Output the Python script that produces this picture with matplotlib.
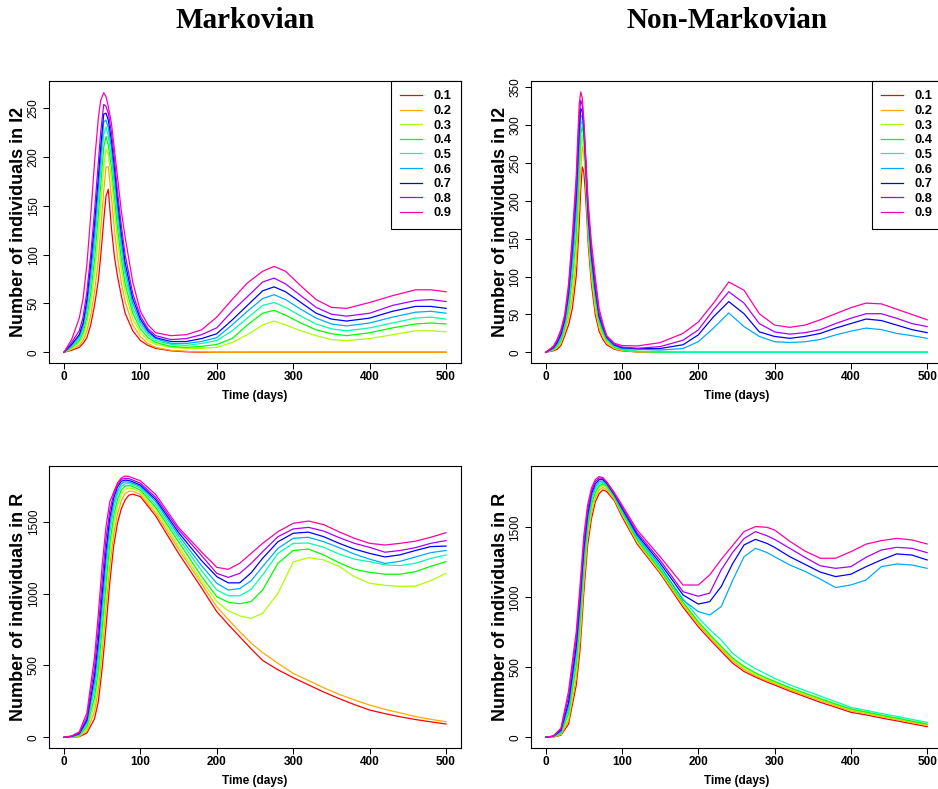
import matplotlib.pyplot as plt

plt.rcParams['font.family'] = ['Liberation Sans', 'DejaVu Sans']

levels = ['0.1', '0.2', '0.3', '0.4', '0.5', '0.6', '0.7', '0.8', '0.9']
colours = ['#FF0000', '#FFAA00', '#AAFF00', '#00FF00', '#00FFAA',
           '#00AAFF', '#0000FF', '#AA00FF', '#FF00AA']

# Markovian, individuals in I2
mk_i2_t = [0, 10, 20, 25, 30, 35, 40, 45, 48, 52, 55, 58, 62, 66, 70, 75, 80, 90, 100,
           110, 120, 140, 160, 180, 200, 220, 240, 260, 275, 290, 310, 330, 350, 370,
           400, 430, 460, 480, 500]
mk_i2 = [
    [0, 2, 5, 9, 15, 28, 48, 74, 98, 135, 160, 167, 128, 98, 78, 58, 40, 22, 12,
     7, 4, 1.5, 0.5, 0, 0, 0, 0, 0, 0, 0, 0, 0, 0, 0, 0, 0, 0, 0, 0],
    [0, 3, 7, 12, 22, 38, 62, 95, 125, 165, 190, 190, 160, 126, 98, 72, 52, 28, 16,
     9, 5, 2, 1, 0.3, 0, 0, 0, 0, 0, 0, 0, 0, 0, 0, 0, 0, 0, 0, 0],
    [0, 4, 10, 16, 30, 50, 80, 120, 150, 190, 209, 202, 178, 145, 115, 85, 62, 34, 20,
     12, 8, 5, 4, 4, 5, 10, 18, 28, 32, 28, 22, 17, 13, 12, 14, 18, 22, 22, 21],
    [0, 5, 12, 20, 36, 60, 95, 140, 170, 210, 221, 212, 190, 160, 128, 96, 70, 40, 24,
     15, 10, 6, 5, 6, 8, 14, 28, 40, 43, 38, 30, 23, 19, 17, 20, 25, 29, 30, 29],
    [0, 6, 14, 24, 42, 70, 108, 155, 185, 223, 231, 222, 200, 170, 138, 105, 78, 45, 28,
     18, 12, 8, 7, 9, 12, 22, 35, 48, 51, 46, 37, 29, 24, 22, 25, 30, 35, 36, 34],
    [0, 7, 16, 27, 48, 80, 120, 168, 198, 236, 238, 230, 210, 180, 148, 113, 85, 50, 31,
     20, 14, 9, 9, 11, 15, 28, 42, 55, 59, 54, 44, 35, 29, 27, 30, 36, 41, 42, 40],
    [0, 8, 18, 30, 54, 90, 132, 180, 210, 244, 245, 238, 218, 190, 157, 122, 92, 55, 34,
     22, 15, 11, 11, 14, 19, 33, 48, 63, 67, 62, 51, 40, 34, 32, 35, 42, 47, 47, 45],
    [0, 10, 22, 36, 62, 100, 145, 195, 225, 254, 252, 245, 226, 198, 165, 130, 100, 60, 37,
     24, 17, 13, 14, 18, 25, 42, 57, 72, 76, 70, 58, 46, 39, 37, 40, 48, 53, 54, 52],
    [0, 13, 35, 55, 90, 140, 195, 240, 258, 266, 262, 252, 235, 208, 180, 145, 118, 72, 42,
     28, 20, 17, 18, 23, 36, 54, 71, 83, 88, 83, 68, 54, 46, 45, 51, 58, 64, 64, 62],
]

# Non-Markovian, individuals in I2
nm_i2_t = [0, 10, 15, 20, 25, 30, 35, 40, 42, 44, 46, 48, 50, 52, 54, 56, 60, 65, 70, 75,
           80, 90, 100, 120, 150, 180, 200, 220, 240, 260, 280, 300, 320, 340, 360, 380,
           400, 420, 440, 460, 480, 500]
nm_i2 = [
    [0, 2, 4, 9, 22, 36, 58, 100, 133, 170, 215, 245, 238, 212, 178, 140, 90, 50, 28, 17,
     10, 4, 2, 0.5, 0, 0, 0, 0, 0, 0, 0, 0, 0, 0, 0, 0, 0, 0, 0, 0, 0, 0],
    [0, 3, 6, 12, 27, 45, 72, 120, 155, 198, 242, 272, 262, 235, 192, 150, 98, 57, 32, 20,
     12, 5, 2.5, 0.7, 0.2, 0, 0, 0, 0, 0, 0, 0, 0, 0, 0, 0, 0, 0, 0, 0, 0, 0],
    [0, 3.5, 7, 14, 30, 52, 85, 138, 178, 225, 268, 287, 275, 245, 200, 157, 106, 64, 36, 23,
     14, 6, 3, 1, 0.3, 0, 0, 0, 0, 0, 0, 0, 0, 0, 0, 0, 0, 0, 0, 0, 0, 0],
    [0, 4, 8, 16, 33, 58, 98, 155, 198, 245, 288, 299, 285, 250, 206, 163, 112, 70, 40, 26,
     16, 7, 3.5, 1.2, 0.4, 0, 0, 0, 0, 0, 0, 0, 0, 0, 0, 0, 0, 0, 0, 0, 0, 0],
    [0, 5, 10, 19, 37, 65, 110, 172, 215, 262, 300, 306, 290, 254, 210, 168, 117, 74, 42, 28,
     17, 8, 4, 1.5, 0.5, 0, 0, 0, 0, 0, 0, 0, 0, 0, 0, 0, 0, 0, 0, 0, 0, 0],
    [0, 5.5, 11, 21, 40, 72, 122, 188, 232, 278, 313, 312, 293, 257, 214, 172, 122, 78, 45, 30,
     18, 9, 5, 4, 3, 5, 14, 32, 52, 34, 21, 14, 13, 14, 17, 23, 28, 32, 30, 25, 22, 18.5],
    [0, 6, 13, 24, 43, 78, 135, 205, 250, 295, 322, 318, 297, 260, 218, 178, 128, 84, 48, 33,
     20, 10, 6, 5, 5, 10, 23, 47, 67, 51, 27, 21, 18.5, 21, 25, 32, 38, 44, 42, 36, 30, 26],
    [0, 7, 15, 27, 46, 84, 145, 218, 266, 312, 333, 326, 302, 264, 222, 185, 135, 90, 52, 35,
     21, 11, 7, 5.3, 7.5, 16, 29.5, 56, 80, 65, 38, 27, 24, 26, 30, 38, 45, 51, 51, 45, 38, 34],
    [0, 8, 17, 30, 50, 90, 155, 232, 282, 328, 344, 336, 308, 270, 230, 195, 145, 100, 58, 38,
     22, 12, 9, 8.4, 12.8, 25, 40, 65, 93, 82, 51, 36, 33, 36, 43, 51, 59, 65, 64, 57, 50, 43],
]

# Markovian, individuals in R
mk_r_t = [0, 10, 20, 30, 40, 45, 50, 55, 60, 65, 70, 75, 80, 85, 90, 100, 120, 150, 180,
          200, 215, 230, 245, 260, 280, 300, 320, 340, 360, 380, 400, 420, 440, 460, 480, 500]
mk_r = [
    [0, 1, 5, 30, 130, 250, 480, 770, 1080, 1330, 1490, 1590, 1652, 1685, 1692, 1675, 1540,
     1280, 1040, 874, 785, 700, 615, 535, 470, 415, 365, 315, 270, 228, 190, 165, 143, 124, 108, 93],
    [0, 2, 8, 45, 180, 330, 600, 900, 1190, 1410, 1555, 1645, 1695, 1712, 1712, 1690, 1560,
     1310, 1070, 909, 820, 735, 655, 590, 515, 445, 395, 345, 300, 260, 225, 195, 170, 145, 125, 109],
    [0, 3, 12, 60, 230, 400, 680, 990, 1280, 1480, 1610, 1690, 1725, 1735, 1730, 1705, 1580,
     1330, 1090, 944, 880, 845, 828, 863, 1002, 1220, 1250, 1235, 1190, 1118, 1072, 1058, 1050, 1052, 1090, 1141],
    [0, 4, 15, 75, 280, 470, 760, 1070, 1350, 1540, 1655, 1720, 1748, 1752, 1745, 1720, 1600,
     1360, 1120, 979, 940, 930, 945, 1025, 1211, 1300, 1310, 1269, 1215, 1170, 1148, 1135, 1135, 1153, 1190, 1222],
    [0, 5, 18, 90, 330, 540, 840, 1150, 1420, 1590, 1690, 1745, 1765, 1765, 1758, 1735, 1620,
     1385, 1160, 1025, 985, 985, 1030, 1130, 1280, 1350, 1352, 1322, 1275, 1240, 1222, 1200, 1195, 1211, 1245, 1269],
    [0, 6, 22, 105, 380, 610, 920, 1230, 1480, 1630, 1715, 1765, 1778, 1775, 1768, 1745, 1640,
     1405, 1195, 1072, 1025, 1035, 1090, 1188, 1315, 1385, 1392, 1361, 1320, 1275, 1240, 1210, 1225, 1255, 1285, 1300],
    [0, 7, 26, 120, 430, 680, 1000, 1300, 1530, 1665, 1742, 1782, 1790, 1787, 1778, 1755, 1655,
     1425, 1230, 1118, 1075, 1075, 1145, 1246, 1361, 1420, 1428, 1396, 1350, 1310, 1280, 1255, 1270, 1300, 1327, 1331],
    [0, 8, 30, 140, 490, 760, 1090, 1380, 1580, 1690, 1760, 1795, 1802, 1800, 1790, 1768, 1670,
     1445, 1265, 1141, 1113, 1141, 1210, 1292, 1396, 1450, 1461, 1435, 1390, 1350, 1322, 1288, 1300, 1320, 1350, 1369],
    [0, 10, 38, 170, 560, 860, 1200, 1466, 1640, 1705, 1770, 1805, 1818, 1815, 1805, 1785, 1690,
     1460, 1290, 1183, 1169, 1211, 1280, 1350, 1431, 1489, 1505, 1480, 1430, 1385, 1350, 1338, 1350, 1365, 1392, 1424],
]

# Non-Markovian, individuals in R
nm_r_t = [0, 10, 20, 30, 40, 45, 50, 55, 60, 65, 70, 75, 80, 90, 100, 120, 150, 180, 200,
          215, 230, 245, 260, 275, 290, 300, 320, 340, 360, 380, 400, 420, 440, 460, 480, 500]
nm_r = [
    [0, 2, 15, 95, 370, 620, 1030, 1370, 1560, 1680, 1740, 1767, 1755, 1690, 1576, 1380, 1171,
     930, 790, 700, 615, 530, 470, 430, 395, 374, 330, 290, 250, 215, 179, 160, 138, 118, 97, 76],
    [0, 3, 20, 120, 420, 690, 1100, 1420, 1600, 1710, 1765, 1785, 1770, 1700, 1590, 1392, 1180,
     945, 805, 715, 630, 545, 485, 440, 405, 385, 340, 300, 263, 225, 190, 170, 148, 128, 107, 86],
    [0, 4, 25, 145, 470, 760, 1160, 1460, 1630, 1730, 1780, 1800, 1782, 1708, 1600, 1400, 1188,
     955, 815, 725, 640, 557, 497, 450, 413, 392, 348, 308, 270, 232, 197, 176, 154, 133, 112, 91],
    [0, 5, 30, 170, 520, 820, 1210, 1495, 1660, 1750, 1795, 1812, 1792, 1715, 1608, 1410, 1196,
     965, 825, 735, 650, 567, 507, 460, 422, 400, 355, 315, 277, 238, 203, 181, 159, 138, 116, 95],
    [0, 6, 35, 195, 560, 870, 1260, 1530, 1690, 1770, 1810, 1822, 1800, 1722, 1618, 1422, 1210,
     990, 855, 770, 695, 600, 540, 490, 450, 421, 375, 334, 295, 255, 214, 193, 170, 150, 128, 107],
    [0, 7, 42, 220, 610, 920, 1300, 1560, 1715, 1790, 1825, 1832, 1808, 1728, 1628, 1434, 1225,
     981, 898, 874, 933, 1120, 1290, 1350, 1320, 1290, 1231, 1185, 1130, 1070, 1088, 1124, 1219, 1238, 1231, 1207],
    [0, 8, 50, 250, 650, 970, 1345, 1590, 1740, 1810, 1840, 1842, 1815, 1734, 1638, 1448, 1245,
     1017, 952, 969, 1076, 1240, 1374, 1414, 1385, 1357, 1290, 1235, 1180, 1148, 1165, 1219, 1267, 1310, 1302, 1267],
    [0, 9, 58, 290, 700, 1020, 1390, 1620, 1760, 1825, 1852, 1850, 1820, 1740, 1648, 1462, 1265,
     1040, 1008, 1030, 1195, 1320, 1420, 1469, 1440, 1414, 1350, 1285, 1225, 1207, 1219, 1286, 1338, 1357, 1350, 1319],
    [0, 10, 65, 330, 750, 1080, 1440, 1660, 1780, 1840, 1862, 1855, 1825, 1748, 1660, 1480, 1290,
     1088, 1088, 1160, 1270, 1370, 1469, 1505, 1500, 1481, 1400, 1330, 1279, 1279, 1326, 1380, 1405, 1421, 1410, 1381],
]

W, H = 938, 789
fig = plt.figure(figsize=(W / 100, H / 100), dpi=100)


def add_panel(left, top, right, bottom):
    return fig.add_axes([left / W, 1 - bottom / H, (right - left) / W, (bottom - top) / H])


panels = [
    # box in pixels, time, series, ylim, yticks, ylabel, legend
    ((49, 80.7, 461, 362.7), mk_i2_t, mk_i2, (-10.7, 278.3), range(0, 251, 50),
     'Number of individuals in I2', True),
    ((530.7, 80.7, 942.1, 362.7), nm_i2_t, nm_i2, (-13.7, 358.8), range(0, 351, 50),
     'Number of individuals in I2', True),
    ((49, 465.7, 461, 747.7), mk_r_t, mk_r, (-72, 1890), range(0, 1501, 500),
     'Number of individuals in R', False),
    ((530.7, 465.7, 942.1, 747.7), nm_r_t, nm_r, (-74, 1940), range(0, 1501, 500),
     'Number of individuals in R', False),
]

for box, t, series, ylim, yticks, ylabel, show_legend in panels:
    ax = add_panel(*box)
    for vals, col, lab in zip(series, colours, levels):
        ax.plot(t, vals, color=col, lw=0.9, label=lab)
    ax.set_xlim(-19.6, 519.6)
    ax.set_ylim(*ylim)
    ax.set_xticks(range(0, 501, 100))
    ax.set_yticks(list(yticks))
    for s in ax.spines.values():
        s.set_linewidth(0.8)
        s.set_color('black')
    ax.tick_params(axis='both', direction='out', length=4.3, width=0.75, labelsize=8.5)
    ax.tick_params(axis='x', pad=1.5)
    ax.tick_params(axis='y', pad=2.5, labelrotation=90)
    for lbl in ax.get_xticklabels():
        lbl.set_fontweight('bold')
    for lbl in ax.get_yticklabels():
        lbl.set_va('center')
    ax.set_xlabel('Time (days)', fontsize=8.5, fontweight='bold')
    ax.xaxis.set_label_coords(0.5, -0.097)
    ax.set_ylabel(ylabel, fontsize=13, fontweight='bold')
    ax.yaxis.label.set_va('center')
    ax.yaxis.set_label_coords(-0.0732, 0.5)
    if show_legend:
        leg = ax.legend(loc='upper right', bbox_to_anchor=(1, 1), borderaxespad=0,
                        fancybox=False, edgecolor='black', framealpha=1,
                        prop={'weight': 'bold', 'size': 9.3}, handlelength=1.7,
                        handletextpad=0.85, labelspacing=0.2, borderpad=0.75)
        leg.get_frame().set_linewidth(0.8)

fig.text(245 / W, 1 - 20 / H, 'Markovian', ha='center', va='center',
         family='Liberation Serif', weight='bold', size=21)
fig.text(727 / W, 1 - 20 / H, 'Non-Markovian', ha='center', va='center',
         family='Liberation Serif', weight='bold', size=21)

fig.savefig('out.png', dpi=100)
